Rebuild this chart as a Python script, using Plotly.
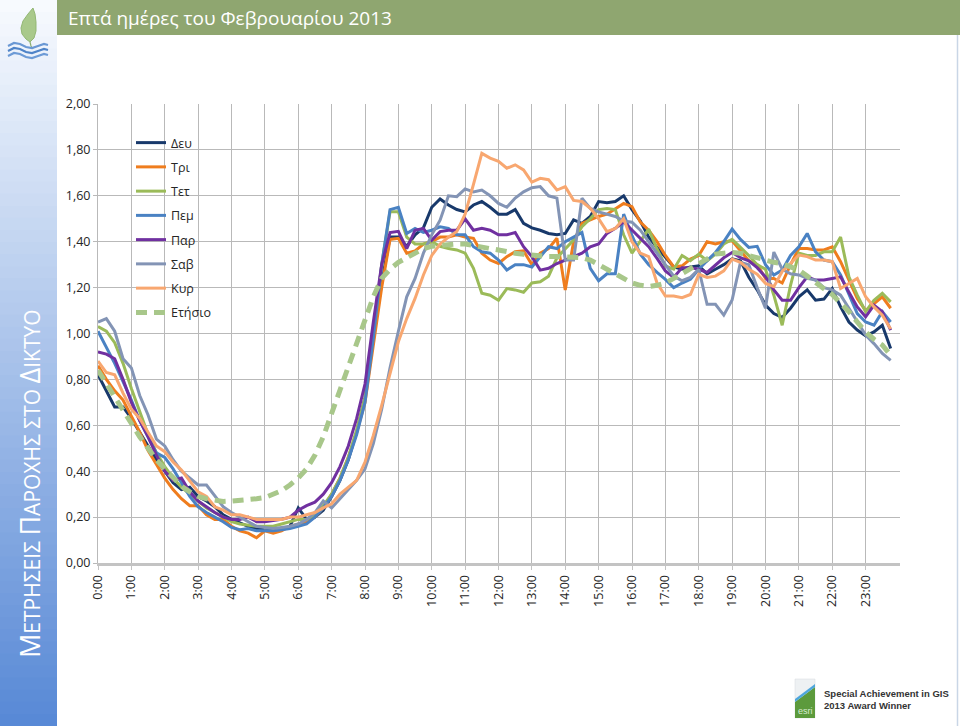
import plotly.graph_objects as go

# ---------------- data (15-minute readings, 0:00 .. 23:45) ----------------
time_labels = [f"{h}:{m:02d}" for h in range(24) for m in (0, 15, 30, 45)]
hour_ticks = [f"{h}:00" for h in range(24)]

dev = [0.82, 0.75, 0.68, 0.68, 0.63, 0.57, 0.51, 0.45, 0.40, 0.35, 0.32, 0.33,
       0.29, 0.27, 0.245, 0.21, 0.19, 0.175, 0.16, 0.15, 0.145, 0.145, 0.145, 0.16,
       0.24, 0.19, 0.20, 0.23, 0.29, 0.36, 0.45, 0.57, 0.72, 0.98, 1.22, 1.42,
       1.42, 1.38, 1.43, 1.46, 1.55, 1.586, 1.56, 1.54, 1.53, 1.56, 1.575, 1.55,
       1.52, 1.52, 1.54, 1.48, 1.46, 1.45, 1.436, 1.43, 1.436, 1.495, 1.48, 1.51,
       1.575, 1.57, 1.575, 1.60, 1.54, 1.49, 1.42, 1.375, 1.33, 1.29, 1.28, 1.29,
       1.295, 1.26, 1.28, 1.30, 1.325, 1.317, 1.245, 1.19, 1.124, 1.087, 1.07, 1.11,
       1.16, 1.19, 1.145, 1.15, 1.196, 1.116, 1.05, 1.015, 0.99, 1.007, 1.036, 0.935]

tri = [0.86, 0.80, 0.75, 0.71, 0.64, 0.57, 0.49, 0.43, 0.37, 0.32, 0.28, 0.25,
       0.25, 0.21, 0.19, 0.19, 0.16, 0.14, 0.13, 0.11, 0.14, 0.13, 0.14, 0.16,
       0.17, 0.18, 0.20, 0.24, 0.30, 0.37, 0.46, 0.57, 0.70, 0.96, 1.20, 1.41,
       1.415, 1.35, 1.36, 1.39, 1.40, 1.42, 1.42, 1.43, 1.42, 1.415, 1.35, 1.32,
       1.305, 1.335, 1.356, 1.36, 1.30, 1.35, 1.37, 1.415, 1.19, 1.40, 1.48, 1.495,
       1.51, 1.52, 1.545, 1.567, 1.553, 1.485, 1.45, 1.40, 1.34, 1.29, 1.295, 1.324,
       1.34, 1.40, 1.39, 1.40, 1.404, 1.36, 1.317, 1.30, 1.24, 1.24, 1.22, 1.30,
       1.37, 1.37, 1.364, 1.364, 1.378, 1.313, 1.233, 1.153, 1.10, 1.13, 1.16, 1.11]

tet = [1.03, 1.01, 0.96, 0.87, 0.76, 0.66, 0.56, 0.48, 0.42, 0.37, 0.33, 0.30,
       0.27, 0.24, 0.22, 0.20, 0.18, 0.17, 0.165, 0.16, 0.16, 0.16, 0.17, 0.18,
       0.19, 0.19, 0.21, 0.25, 0.30, 0.37, 0.46, 0.58, 0.72, 1.00, 1.30, 1.53,
       1.53, 1.42, 1.39, 1.39, 1.40, 1.38, 1.37, 1.364, 1.35, 1.284, 1.175, 1.167,
       1.145, 1.196, 1.19, 1.18, 1.22, 1.225, 1.25, 1.33, 1.37, 1.407, 1.465, 1.50,
       1.54, 1.545, 1.54, 1.43, 1.35, 1.40, 1.455, 1.368, 1.295, 1.28, 1.34, 1.317,
       1.346, 1.317, 1.346, 1.39, 1.41, 1.375, 1.34, 1.30, 1.28, 1.167, 1.036, 1.21,
       1.35, 1.34, 1.34, 1.356, 1.356, 1.42, 1.247, 1.167, 1.095, 1.145, 1.175, 1.138]

pem = [1.01, 0.94, 0.87, 0.79, 0.71, 0.62, 0.55, 0.48, 0.46, 0.41, 0.35, 0.29,
       0.245, 0.22, 0.20, 0.18, 0.155, 0.145, 0.15, 0.14, 0.14, 0.14, 0.145, 0.15,
       0.16, 0.17, 0.20, 0.24, 0.29, 0.36, 0.45, 0.56, 0.70, 0.98, 1.30, 1.54,
       1.55, 1.436, 1.458, 1.44, 1.45, 1.465, 1.458, 1.43, 1.43, 1.378, 1.356, 1.35,
       1.32, 1.277, 1.30, 1.30, 1.29, 1.335, 1.378, 1.37, 1.40, 1.42, 1.44, 1.284,
       1.23, 1.26, 1.26, 1.52, 1.426, 1.346, 1.30, 1.266, 1.236, 1.20, 1.22, 1.236,
       1.28, 1.317, 1.353, 1.40, 1.455, 1.41, 1.375, 1.38, 1.30, 1.255, 1.276, 1.34,
       1.378, 1.436, 1.356, 1.32, 1.313, 1.255, 1.167, 1.087, 1.05, 1.036, 1.095, 1.05]

par = [0.92, 0.91, 0.89, 0.80, 0.70, 0.62, 0.55, 0.47, 0.40, 0.36, 0.37, 0.31,
       0.27, 0.245, 0.22, 0.20, 0.19, 0.19, 0.20, 0.18, 0.18, 0.185, 0.19, 0.20,
       0.23, 0.25, 0.265, 0.30, 0.35, 0.42, 0.51, 0.63, 0.78, 1.05, 1.30, 1.44,
       1.445, 1.37, 1.45, 1.458, 1.407, 1.444, 1.45, 1.45, 1.50, 1.45, 1.458, 1.45,
       1.43, 1.43, 1.44, 1.378, 1.335, 1.276, 1.284, 1.305, 1.32, 1.335, 1.35, 1.378,
       1.39, 1.436, 1.458, 1.487, 1.45, 1.415, 1.378, 1.327, 1.273, 1.244, 1.287, 1.287,
       1.28, 1.266, 1.30, 1.33, 1.353, 1.33, 1.317, 1.287, 1.247, 1.19, 1.145, 1.145,
       1.20, 1.247, 1.233, 1.233, 1.24, 1.247, 1.18, 1.116, 1.073, 1.124, 1.095, 1.015]

sav = [1.05, 1.065, 1.01, 0.89, 0.85, 0.73, 0.645, 0.54, 0.51, 0.45, 0.40, 0.37,
       0.34, 0.34, 0.29, 0.245, 0.22, 0.20, 0.18, 0.16, 0.155, 0.15, 0.155, 0.16,
       0.17, 0.19, 0.22, 0.27, 0.24, 0.28, 0.32, 0.36, 0.41, 0.52, 0.67, 0.85,
       1.01, 1.16, 1.24, 1.35, 1.43, 1.494, 1.60, 1.596, 1.63, 1.617, 1.625, 1.60,
       1.567, 1.55, 1.59, 1.617, 1.635, 1.64, 1.60, 1.59, 1.32, 1.32, 1.59, 1.545,
       1.53, 1.52, 1.51, 1.49, 1.485, 1.45, 1.40, 1.35, 1.30, 1.25, 1.23, 1.245,
       1.28, 1.127, 1.127, 1.08, 1.146, 1.31, 1.30, 1.20, 1.11, 1.355, 1.28, 1.26,
       1.255, 1.24, 1.233, 1.20, 1.19, 1.167, 1.11, 1.05, 0.993, 0.956, 0.913, 0.883]

kyr = [0.88, 0.83, 0.82, 0.74, 0.67, 0.63, 0.57, 0.51, 0.485, 0.44, 0.405, 0.355,
       0.31, 0.29, 0.245, 0.23, 0.21, 0.21, 0.20, 0.19, 0.19, 0.19, 0.19, 0.20,
       0.20, 0.21, 0.22, 0.24, 0.258, 0.30, 0.33, 0.36, 0.44, 0.556, 0.687, 0.82,
       0.964, 1.065, 1.153, 1.255, 1.34, 1.39, 1.42, 1.444, 1.52, 1.65, 1.785, 1.764,
       1.75, 1.72, 1.735, 1.713, 1.66, 1.676, 1.67, 1.625, 1.64, 1.58, 1.575, 1.545,
       1.50, 1.444, 1.458, 1.50, 1.40, 1.35, 1.335, 1.22, 1.163, 1.163, 1.156, 1.17,
       1.258, 1.244, 1.25, 1.273, 1.324, 1.31, 1.28, 1.258, 1.218, 1.204, 1.27, 1.305,
       1.342, 1.335, 1.32, 1.32, 1.313, 1.196, 1.218, 1.24, 1.16, 1.116, 1.08, 1.02]

etisio = [0.84, 0.78, 0.73, 0.67, 0.61, 0.55, 0.50, 0.45, 0.41, 0.37, 0.335, 0.31,
          0.29, 0.28, 0.272, 0.268, 0.27, 0.272, 0.275, 0.28, 0.285, 0.30, 0.315, 0.34,
          0.37, 0.41, 0.47, 0.55, 0.65, 0.76, 0.86, 0.96, 1.06, 1.16, 1.24, 1.28,
          1.31, 1.33, 1.35, 1.37, 1.38, 1.385, 1.39, 1.39, 1.39, 1.385, 1.38, 1.37,
          1.364, 1.355, 1.35, 1.345, 1.34, 1.338, 1.335, 1.335, 1.335, 1.335, 1.33, 1.32,
          1.30, 1.28, 1.26, 1.24, 1.22, 1.21, 1.205, 1.21, 1.22, 1.24, 1.26, 1.28,
          1.30, 1.325, 1.346, 1.35, 1.353, 1.35, 1.34, 1.33, 1.317, 1.31, 1.305, 1.29,
          1.276, 1.25, 1.22, 1.195, 1.17, 1.135, 1.095, 1.05, 1.007, 0.975, 0.95, 0.905]

series_names = ["Δευ", "Τρι", "Τετ", "Πεμ", "Παρ", "Σαβ", "Κυρ", "Ετήσιο"]
series_values = [dev, tri, tet, pem, par, sav, kyr, etisio]
series_colors = ["#18396b", "#ef7d1e", "#9bbb59", "#4a82c3", "#7030a0",
                 "#8394b5", "#f8a770", "#a8c78a"]

title_text = "Επτά ημέρες του Φεβρουαρίου 2013"

# ---------------- layout geometry helpers ----------------
W, H = 960, 726
ML, MR, MT, MB = 98, 60, 104, 163
PW, PH = W - ML - MR, H - MT - MB


def px(x):
    return (x - ML) / PW


def py(y):
    return (H - MB - y) / PH


FONT = "Open Sans"

fig = go.Figure()
for name, vals, col in zip(series_names, series_values, series_colors):
    dashed = name == "Ετήσιο"
    fig.add_trace(go.Scatter(
        x=time_labels, y=vals, mode="lines", name=name,
        legendgroup=name,
        line=dict(color=col, width=5 if dashed else 3,
                  dash="11px,7px" if dashed else "solid"),
        hoverinfo="skip",
    ))

shapes = []
# left gradient band
n_strips = 60
top_c = (247, 250, 254)
bot_c = (88, 137, 214)
for i in range(n_strips):
    t = i / (n_strips - 1)
    c = tuple(int(round(top_c[k] + (bot_c[k] - top_c[k]) * t)) for k in range(3))
    y0 = H * i / n_strips
    y1 = H * (i + 1) / n_strips + 0.8
    shapes.append(dict(type="rect", xref="paper", yref="paper", layer="below",
                       x0=px(0), x1=px(57), y0=py(y0), y1=py(min(y1, H)),
                       line=dict(width=0), fillcolor="rgb(%d,%d,%d)" % c))
# header bar
shapes.append(dict(type="rect", xref="paper", yref="paper", layer="below",
                   x0=px(57), x1=px(960), y0=py(0), y1=py(35),
                   line=dict(width=0), fillcolor="#8fa670"))
# right thin frame line
shapes.append(dict(type="line", xref="paper", yref="paper",
                   x0=px(957.5), x1=px(957.5), y0=py(35), y1=py(726),
                   line=dict(color="#c9d6e6", width=1.5)))


def path_from(points, close=True):
    s = "M " + " L ".join(f"{px(a):.5f},{py(b):.5f}" for a, b in points)
    return s + (" Z" if close else "")


# logo leaf
leaf = [(33, 8), (28, 14), (23, 21), (21, 28), (22, 34), (26, 39), (30, 42),
        (34, 38), (36, 31), (36, 22), (35, 14)]
shapes.append(dict(type="path", xref="paper", yref="paper", path=path_from(leaf),
                   fillcolor="#a9c98b", line=dict(color="#93b774", width=1)))
shapes.append(dict(type="path", xref="paper", yref="paper",
                   path=path_from([(30, 42), (31, 46), (33, 49)], close=False),
                   line=dict(color="#8fb070", width=1.2)))
# logo waves
for k, (dy, col) in enumerate([(0, "#6a98d4"), (5, "#4f84c8"), (10, "#6d9bd6")]):
    pts = [(8, 46 + dy), (14, 43 + dy), (20, 44 + dy), (26, 47 + dy), (32, 48 + dy),
           (38, 46 + dy), (44, 44 + dy), (48, 45 + dy)]
    shapes.append(dict(type="path", xref="paper", yref="paper",
                       path=path_from(pts, close=False),
                       line=dict(color=col, width=2.2)))

# esri badge
shapes.append(dict(type="rect", xref="paper", yref="paper",
                   x0=px(795), x1=px(815), y0=py(679), y1=py(718),
                   fillcolor="#eef1f3", line=dict(color="#d5d9dc", width=0.5)))
shapes.append(dict(type="path", xref="paper", yref="paper",
                   path=path_from([(795, 702), (815, 687), (815, 718), (795, 718)]),
                   fillcolor="#5c9a3c", line=dict(width=0)))
shapes.append(dict(type="path", xref="paper", yref="paper",
                   path=path_from([(795, 699), (815, 684), (815, 687), (795, 702)]),
                   fillcolor="#4ea6dc", line=dict(width=0)))

annotations = [
    dict(text=title_text, xref="paper", yref="paper", x=px(66), y=py(18),
         xanchor="left", yanchor="middle", showarrow=False,
         font=dict(family=FONT, size=19, color="white")),
    dict(text=('<span style="font-size:27px">Μ</span>ΕΤΡΗΣΕΙΣ '
               '<span style="font-size:27px">Π</span>ΑΡΟΧΗΣ ΣΤΟ '
               '<span style="font-size:27px">Δ</span>ΙΚΤΥΟ'),
         xref="paper", yref="paper", x=px(29), y=py(484), textangle=-90,
         xanchor="center", yanchor="middle", showarrow=False,
         font=dict(family=FONT, size=21, color="white")),
    dict(text="esri", xref="paper", yref="paper", x=px(805), y=py(711),
         xanchor="center", yanchor="middle", showarrow=False,
         font=dict(family="Liberation Sans Narrow, Liberation Sans", size=9, color="#d8ecd0")),
    dict(text="<b>Special Achievement in GIS</b><br><b>2013 Award Winner</b>",
         xref="paper", yref="paper", x=px(822), y=py(699), align="left",
         xanchor="left", yanchor="middle", showarrow=False,
         font=dict(family="Liberation Sans Narrow, Liberation Sans", size=9.5, color="#333333")),
]

fig.update_layout(
    width=W, height=H,
    margin=dict(l=ML, r=MR, t=MT, b=MB, pad=0),
    paper_bgcolor="white", plot_bgcolor="white",
    separators=",.",
    font=dict(family=FONT, color="#262626"),
    showlegend=True,
    legend=dict(x=px(131), y=py(128), xanchor="left", yanchor="top",
                bgcolor="rgba(255,255,255,0)", borderwidth=0,
                font=dict(family=FONT, size=12.5, color="#262626"),
                tracegroupgap=5, itemwidth=30),
    shapes=shapes,
    annotations=annotations,
    xaxis=dict(type="category", range=[0, 96.12],
               tickmode="array", tickvals=hour_ticks, ticktext=hour_ticks,
               tickangle=-90, showgrid=True, gridcolor="#b9b9b9", gridwidth=1,
               showline=True, linecolor="#c3c3c3", linewidth=3,
               ticks="outside", ticklen=4, tickcolor="#c3c3c3",
               tickfont=dict(family=FONT, size=12.5, color="#262626"),
               zeroline=False, fixedrange=True),
    yaxis=dict(range=[0, 2.0], tickmode="array",
               tickvals=[0, 0.2, 0.4, 0.6, 0.8, 1.0, 1.2, 1.4, 1.6, 1.8, 2.0],
               tickformat=".2f", showgrid=True, gridcolor="#b9b9b9", gridwidth=1,
               showline=True, linecolor="#b9b9b9", linewidth=1,
               ticks="outside", ticklen=4, tickcolor="#b9b9b9",
               tickfont=dict(family=FONT, size=12.5, color="#262626"),
               zeroline=False, fixedrange=True),
)

fig.write_html("out.html", config={"displayModeBar": False},
               post_script="document.body.style.margin='0';document.body.style.padding='0';")
